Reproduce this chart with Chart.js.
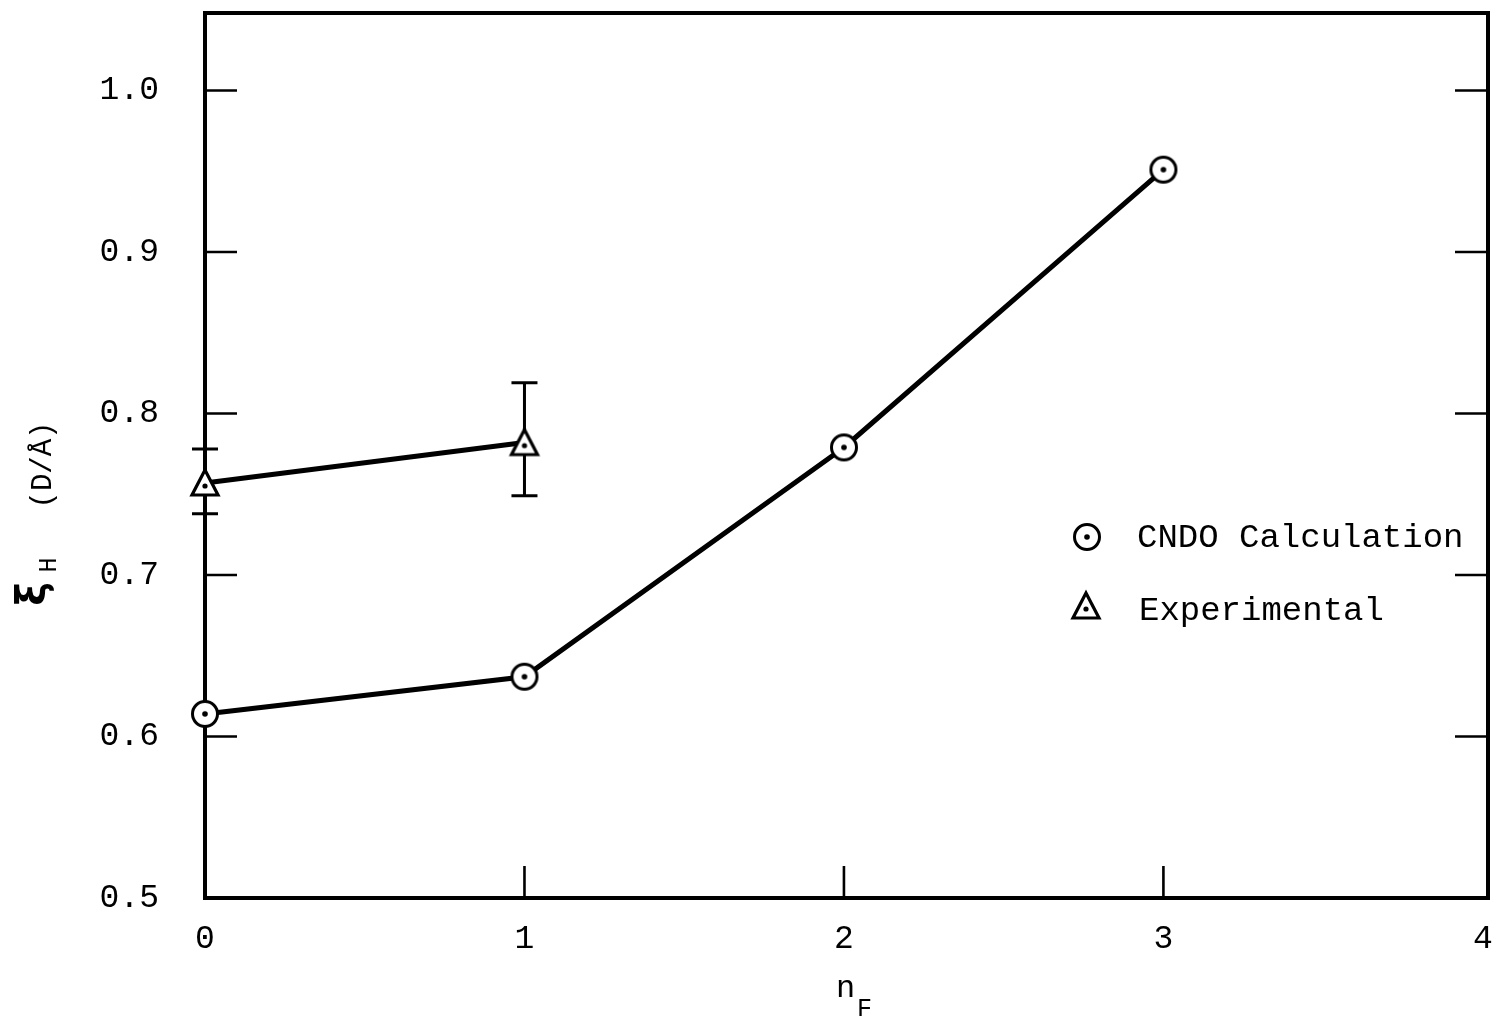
<!DOCTYPE html>
<html>
<head>
<meta charset="utf-8">
<script src="https://cdn.jsdelivr.net/npm/chart.js@4/dist/chart.umd.min.js"></script>
<style>
html,body{margin:0;padding:0;background:#fff;}
#wrap{width:1494px;height:1020px;}
</style>
</head>
<body>
<div id="wrap"><canvas id="c" width="1494" height="1020"></canvas></div>
<script>
// ---- data ----
const nF = [0, 1, 2, 3];
const cndoValues = [0.614, 0.637, 0.779, 0.951];
const expN = [0, 1];
const expValues = [0.757, 0.782];
const expHigh = [0.778, 0.819];
const expLow = [0.738, 0.749];
const xTicks = [0, 1, 2, 3, 4];
const yTicks = [0.5, 0.6, 0.7, 0.8, 0.9, 1.0];
const seriesLabels = ['CNDO Calculation', 'Experimental'];

const FONT = "'Liberation Mono', 'DejaVu Sans Mono', monospace";

function circleDot(){
  const c = document.createElement('canvas'); c.width = 32; c.height = 32;
  const g = c.getContext('2d');
  g.beginPath(); g.arc(16,16,12.5,0,Math.PI*2);
  g.fillStyle='#fff'; g.fill(); g.lineWidth=3; g.strokeStyle='#000'; g.stroke();
  g.beginPath(); g.arc(16,16,2.8,0,Math.PI*2); g.fillStyle='#000'; g.fill();
  return c;
}
function triDot(){
  const c = document.createElement('canvas'); c.width = 34; c.height = 34;
  const g = c.getContext('2d');
  g.beginPath(); g.moveTo(17,4); g.lineTo(30,29); g.lineTo(4,29); g.closePath();
  g.fillStyle='#fff'; g.fill(); g.lineWidth=3.2; g.lineJoin='miter'; g.strokeStyle='#000'; g.stroke();
  g.beginPath(); g.arc(17,20,2.6,0,Math.PI*2); g.fillStyle='#000'; g.fill();
  return c;
}
const circImg = circleDot();
const triImg = triDot();

const framePlugin = {
  id: 'frame',
  beforeDatasetsDraw(chart){
    const {ctx, chartArea:a, scales:{x, y}} = chart;
    ctx.save();
    ctx.strokeStyle = '#000';
    // ticks
    ctx.lineWidth = 2.6;
    ctx.beginPath();
    yTicks.forEach(v => {
      if (v === yTicks[0]) return;
      const py = y.getPixelForValue(v);
      ctx.moveTo(a.left, py); ctx.lineTo(a.left + 32, py);
      ctx.moveTo(a.right, py); ctx.lineTo(a.right - 33, py);
    });
    xTicks.forEach(v => {
      if (v === xTicks[0] || v === xTicks[xTicks.length-1]) return;
      const px = x.getPixelForValue(v);
      ctx.moveTo(px, a.bottom); ctx.lineTo(px, a.bottom - 32);
    });
    ctx.stroke();
    // frame
    ctx.lineWidth = 4;
    ctx.lineJoin = 'miter';
    ctx.strokeRect(a.left, a.top, a.right - a.left, a.bottom - a.top);
    // error bars
    ctx.lineWidth = 3;
    ctx.beginPath();
    expN.forEach((n, i) => {
      const px = x.getPixelForValue(n);
      const hi = y.getPixelForValue(expHigh[i]);
      const lo = y.getPixelForValue(expLow[i]);
      ctx.moveTo(px, hi); ctx.lineTo(px, lo);
      ctx.moveTo(px - 13, hi); ctx.lineTo(px + 13, hi);
      ctx.moveTo(px - 13, lo); ctx.lineTo(px + 13, lo);
    });
    ctx.stroke();
    ctx.restore();
  },
  afterDraw(chart){
    const {ctx} = chart;
    ctx.save();
    ctx.fillStyle = '#000';
    // legend
    ctx.drawImage(circImg, 1087 - 16, 537 - 16);
    ctx.drawImage(triImg, 1086 - 17, 606 - 17);
    ctx.font = "34px " + FONT;
    ctx.textAlign = 'left'; ctx.textBaseline = 'middle';
    ctx.fillText(seriesLabels[0], 1137, 538);
    ctx.fillText(seriesLabels[1], 1139, 611);
    // x title n_F
    ctx.textBaseline = 'alphabetic';
    ctx.font = "32px " + FONT;
    ctx.fillText('n', 836, 997);
    ctx.font = "25px " + FONT;
    ctx.fillText('F', 857, 1016);
    // y title
    ctx.save();
    ctx.rotate(-Math.PI/2);
    ctx.textAlign = 'center';
    ctx.textBaseline = 'middle';
    ctx.font = "bold 40px 'DejaVu Sans', sans-serif";
    ctx.fillText('\u03BE', -594, 35);
    ctx.font = "25px " + FONT;
    ctx.fillText('H', -565, 49);
    ctx.font = "29px " + FONT;
    ctx.fillText('(D/\u00C5)', -465, 43);
    ctx.restore();
    ctx.restore();
  }
};

new Chart(document.getElementById('c'), {
  type: 'scatter',
  data: {
    datasets: [
      {
        label: seriesLabels[0],
        data: nF.map((n, i) => ({x: n, y: cndoValues[i]})),
        showLine: true,
        borderColor: '#000',
        borderWidth: 5,
        pointStyle: circImg,
        pointRadius: 14,
        pointHoverRadius: 14,
        clip: false
      },
      {
        label: seriesLabels[1],
        data: expN.map((n, i) => ({x: n, y: expValues[i]})),
        showLine: true,
        borderColor: '#000',
        borderWidth: 5,
        pointStyle: triImg,
        pointRadius: 14,
        pointHoverRadius: 14,
        clip: false
      }
    ]
  },
  options: {
    responsive: false,
    animation: false,
    events: [],
    layout: { autoPadding: false, padding: { left: 0, right: 6, top: 13, bottom: 0 } },
    plugins: { legend: { display: false }, tooltip: { enabled: false } },
    scales: {
      x: {
        type: 'linear',
        min: 0, max: 4.016,
        grid: { display: false, drawTicks: false },
        border: { display: false },
        afterBuildTicks(s){ s.ticks = xTicks.map(v => ({value: v})); },
        afterFit(s){ s.height = 122; s.paddingLeft = 0; s.paddingRight = 0; },
        ticks: { color: '#000', padding: 21, font: { family: FONT, size: 33 }, callback: v => String(v) }
      },
      y: {
        type: 'linear',
        min: 0.5, max: 1.048,
        grid: { display: false, drawTicks: false },
        border: { display: false },
        afterBuildTicks(s){ s.ticks = yTicks.map(v => ({value: v})); },
        afterFit(s){ s.width = 205; s.paddingTop = 0; s.paddingBottom = 0; },
        ticks: { color: '#000', padding: 46, font: { family: FONT, size: 33 }, callback: v => Number(v).toFixed(1) }
      }
    }
  },
  plugins: [framePlugin]
});
</script>
</body>
</html>
